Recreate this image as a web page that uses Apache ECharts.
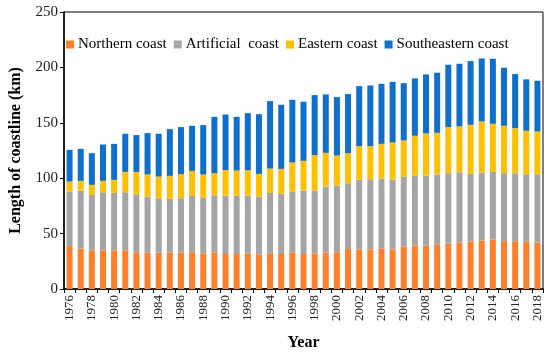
<!DOCTYPE html>
<html>
<head>
<meta charset="utf-8">
<script src="https://cdn.jsdelivr.net/npm/echarts@6/dist/echarts.min.js"></script>
<style>html,body{margin:0;padding:0;background:#fff;}#c{width:550px;height:356px;}</style>
</head>
<body>
<div id="c"></div>
<script>
const years = ['1976','1977','1978','1979','1980','1981','1982','1983','1984','1985','1986','1987','1988','1989','1990','1991','1992','1993','1994','1995','1996','1997','1998','1999','2000','2001','2002','2003','2004','2005','2006','2007','2008','2009','2010','2011','2012','2013','2014','2015','2016','2017','2018'];
const northern = [38.9,36.7,34.9,34.9,34.9,34.9,33.1,32.8,32.8,32.8,32.8,33.1,32.2,32.8,31.6,31.6,32.2,31.3,32.2,31.6,33.1,31.6,32.2,32.8,33.1,36.1,35.5,35.8,36.7,35.8,38.3,39.2,39.2,39.8,41.0,41.9,42.8,43.7,44.6,43.1,43.1,42.5,41.9];
const artificial = [49.1,52.2,50.0,52.4,51.8,52.4,52.4,50.6,49.1,48.5,49.1,50.9,50.3,51.8,52.7,52.7,52.1,52.1,54.5,54.5,54.6,57.3,56.7,59.7,60.3,59.4,63.0,63.3,63.0,63.0,62.9,63.2,63.2,63.5,63.5,63.5,61.1,61.4,61.1,61.4,61.4,61.1,61.7];
const eastern = [9.0,8.7,9.1,10.3,11.8,18.4,20.2,19.9,19.6,20.8,21.7,22.6,20.8,19.9,23.1,22.6,22.9,20.5,22.0,22.3,26.5,26.8,31.9,30.4,27.1,27.1,30.4,29.8,31.3,33.4,32.8,35.9,38.0,37.7,41.6,41.3,44.3,46.1,43.4,42.8,40.7,39.2,38.6];
const southeastern = [28.6,28.9,28.6,32.8,32.5,34.4,33.2,37.4,38.6,42.2,42.5,40.7,44.6,50.9,50.1,48.5,51.5,53.9,60.9,57.9,56.6,53.3,54.2,52.7,52.7,53.3,54.2,54.8,54.2,54.8,51.8,51.8,53.3,54.2,56.3,56.6,57.5,56.9,58.7,52.4,48.8,46.4,45.8];
const yTicks = [0,50,100,150,200,250];
const seriesNames = ['Northern coast','Artificial  coast','Eastern coast','Southeastern coast'];
const colors = ['#FF7F2A','#A5A5A5','#FFC000','#0F6FCC'];

const font = 'Liberation Serif';
const chart = echarts.init(document.getElementById('c'), null, {renderer:'canvas'});
const data = [northern, artificial, eastern, southeastern];
chart.setOption({
  animation: false,
  color: colors,
  textStyle: {fontFamily: font},
  grid: {left: 59, right: 7, top: 12, bottom: 66, show: true, borderColor: '#000', borderWidth: 1, backgroundColor: 'transparent'},
  legend: {
    top: 37, left: 66, padding: 0, itemWidth: 8, itemHeight: 8, itemGap: 7,
    icon: 'rect',
    textStyle: {fontFamily: font, fontSize: 15, color: '#000', padding: [0,0,0,-1]},
    data: seriesNames
  },
  xAxis: {
    type: 'category', data: years,
    name: 'Year', nameLocation: 'middle', nameGap: 46,
    nameTextStyle: {fontFamily: font, fontSize: 16, fontWeight: 'bold', color: '#000'},
    axisLine: {lineStyle: {color: '#000', width: 1.5}},
    axisTick: {show: true, alignWithLabel: false, interval: 0, length: 4, lineStyle: {color: '#000'}},
    axisLabel: {rotate: 90, interval: 1, fontFamily: font, fontSize: 13, color: '#222', margin: 6}
  },
  yAxis: {
    type: 'value', min: 0, max: 250, interval: 50,
    name: 'Length of coastline (km)', nameLocation: 'middle', nameGap: 40,
    nameTextStyle: {fontFamily: font, fontSize: 16, fontWeight: 'bold', color: '#000'},
    axisLine: {show: true, lineStyle: {color: '#000', width: 1.5}},
    axisTick: {show: true, length: 4, lineStyle: {color: '#000'}},
    splitLine: {show: false},
    axisLabel: {fontFamily: font, fontSize: 15, color: '#222', margin: 6,
      formatter: v => yTicks.includes(v) ? String(v) : ''}
  },
  series: seriesNames.map((n, i) => ({
    name: n, type: 'bar', stack: 'total', data: data[i],
    barWidth: 6,
    itemStyle: {color: colors[i]}
  }))
});
</script>
</body>
</html>
